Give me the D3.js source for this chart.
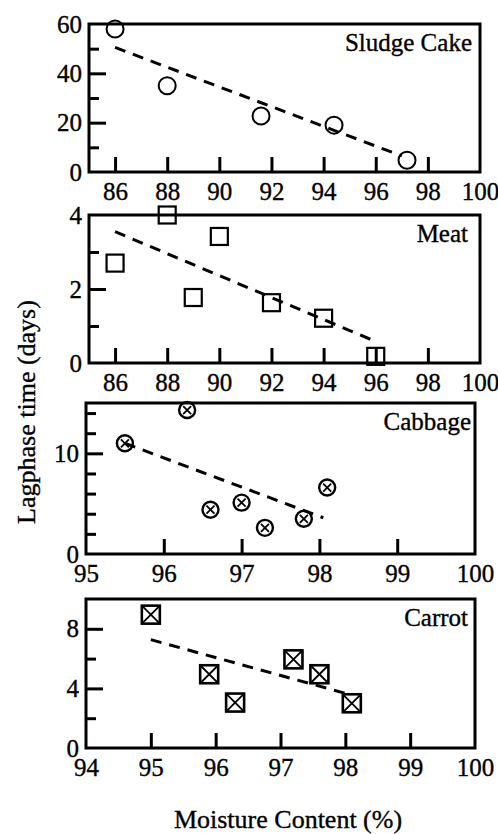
<!DOCTYPE html>
<html>
<head>
<meta charset="utf-8">
<script src="https://cdn.jsdelivr.net/npm/d3@7"></script>
<style>
  body { margin: 0; background: #fff; }
  svg { display: block; }
  svg text { stroke: #000; stroke-width: 0.35px; }
</style>
</head>
<body>
<div id="chart"></div>
<script>
/* Lagphase time vs moisture content, four stacked panels */

// data
const sludgeX = [86, 88, 91.6, 94.4, 97.2];
const sludgeY = [58, 35, 22.7, 19, 4.8];
const sludgeTrend = [[86, 50.5], [97, 6.5]];

const meatX = [86, 88, 89, 90, 92, 94, 96];
const meatY = [2.7, 4.0, 1.77, 3.42, 1.63, 1.21, 0.18];
const meatTrend = [[86, 3.55], [96, 0.58]];

const cabbageX = [95.5, 96.3, 96.6, 97.0, 97.3, 97.8, 98.1];
const cabbageY = [11.0, 14.3, 4.4, 5.1, 2.6, 3.5, 6.6];
const cabbageTrend = [[95.5, 11.0], [98.05, 3.6]];

const carrotX = [95.0, 95.9, 96.3, 97.2, 97.6, 98.1];
const carrotY = [8.95, 4.95, 3.05, 5.95, 4.95, 3.0];
const carrotTrend = [[95.0, 7.27], [98.0, 3.67]];

// tick labels / marks
const xLabelsA = [86, 88, 90, 92, 94, 96, 98, 100];
const xLabelsB = [95, 96, 97, 98, 99, 100];
const xLabelsC = [94, 95, 96, 97, 98, 99, 100];

const width = 498, height = 834;
const serif = "Liberation Serif, DejaVu Serif, serif";

const panels = [
  { name: "Sludge Cake", xs: sludgeX, ys: sludgeY, trend: sludgeTrend, marker: "circle",
    xDom: [85, 100], yDom: [0, 60], xLab: xLabelsA, xMarks: xLabelsA.slice(0, -1),
    yLab: [0, 20, 40, 60], yMajor: [20, 40], yMinor: [10, 30, 50],
    box: { l: 89, r: 480, t: 24, b: 172 }, labDx: 8 },
  { name: "Meat", xs: meatX, ys: meatY, trend: meatTrend, marker: "square",
    xDom: [85, 100], yDom: [0, 4], xLab: xLabelsA, xMarks: xLabelsA.slice(0, -1),
    yLab: [0, 2, 4], yMajor: [2], yMinor: [1, 3],
    box: { l: 89, r: 480, t: 215, b: 363 }, labDx: 12 },
  { name: "Cabbage", xs: cabbageX, ys: cabbageY, trend: cabbageTrend, marker: "circlex",
    xDom: [95, 100], yDom: [0, 15], xLab: xLabelsB, xMarks: xLabelsB.slice(1, -1),
    yLab: [0, 10], yMajor: [10], yMinor: [2, 4, 6, 8, 12, 14],
    box: { l: 86, r: 475, t: 403, b: 554 }, labDx: 4 },
  { name: "Carrot", xs: carrotX, ys: carrotY, trend: carrotTrend, marker: "squarex",
    xDom: [94, 100], yDom: [0, 10], xLab: xLabelsC, xMarks: xLabelsC.slice(1, -1),
    yLab: [0, 4, 8], yMajor: [4, 8], yMinor: [2, 6],
    box: { l: 86, r: 475, t: 599, b: 748 }, labDx: 7 }
];

const svg = d3.select("#chart")
  .append("svg")
  .attr("width", width)
  .attr("height", height)
  .attr("viewBox", [0, 0, width, height])
  .attr("font-family", serif);

const fmt = d3.format("d");

panels.forEach(p => {
  const b = p.box;
  const x = d3.scaleLinear().domain(p.xDom).range([b.l, b.r]);
  const y = d3.scaleLinear().domain(p.yDom).range([b.b, b.t]);
  const g = svg.append("g");

  // inward tick marks
  g.append("g")
    .attr("transform", `translate(0,${b.b})`)
    .call(d3.axisBottom(x).tickValues(p.xMarks).tickSize(-15).tickFormat(""))
    .call(a => a.select(".domain").remove())
    .call(a => a.selectAll("line").attr("stroke-width", 3));
  g.append("g")
    .attr("transform", `translate(${b.l},0)`)
    .call(d3.axisLeft(y).tickValues(p.yMajor).tickSize(-17).tickFormat(""))
    .call(a => a.select(".domain").remove())
    .call(a => a.selectAll("line").attr("stroke-width", 3));
  g.append("g")
    .attr("transform", `translate(${b.l},0)`)
    .call(d3.axisLeft(y).tickValues(p.yMinor).tickSize(-10).tickFormat(""))
    .call(a => a.select(".domain").remove())
    .call(a => a.selectAll("line").attr("stroke-width", 3));

  // tick labels
  g.append("g")
    .attr("transform", `translate(0,${b.b})`)
    .call(d3.axisBottom(x).tickValues(p.xLab).tickFormat(fmt).tickSize(0).tickPadding(10))
    .attr("font-family", serif).attr("font-size", 25)
    .call(a => a.select(".domain").remove())
    .call(a => a.selectAll("text").attr("fill", "#000"));
  g.append("g")
    .attr("transform", `translate(${b.l},0)`)
    .call(d3.axisLeft(y).tickValues(p.yLab).tickFormat(fmt).tickSize(0).tickPadding(7))
    .attr("font-family", serif).attr("font-size", 25)
    .call(a => a.select(".domain").remove())
    .call(a => a.selectAll("text").attr("fill", "#000"));

  // frame
  g.append("rect")
    .attr("x", b.l).attr("y", b.t)
    .attr("width", b.r - b.l).attr("height", b.b - b.t)
    .attr("fill", "none").attr("stroke", "#000").attr("stroke-width", 3);

  // trend line
  g.append("path")
    .datum(p.trend)
    .attr("d", d3.line().x(d => x(d[0])).y(d => y(d[1])))
    .attr("fill", "none").attr("stroke", "#000")
    .attr("stroke-width", 3).attr("stroke-dasharray", "11,8");

  // markers
  const pts = p.xs.map((v, i) => ({ x: v, y: p.ys[i] }));
  const m = g.selectAll(".pt").data(pts).join("g")
    .attr("class", "pt")
    .attr("transform", d => `translate(${x(d.x)},${y(d.y)})`)
    .attr("fill", "none").attr("stroke", "#000");

  if (p.marker === "circle") {
    m.append("circle").attr("r", 8.5).attr("stroke-width", 2);
  } else if (p.marker === "square") {
    m.append("rect").attr("x", -8.5).attr("y", -8.5).attr("width", 17).attr("height", 17)
      .attr("stroke-width", 2.2);
  } else if (p.marker === "circlex") {
    m.append("circle").attr("r", 8).attr("stroke-width", 2.4);
    m.append("path").attr("d", "M-4,-4L4,4M-4,4L4,-4").attr("stroke-width", 1.8);
  } else {
    m.append("rect").attr("x", -9).attr("y", -9).attr("width", 18).attr("height", 18)
      .attr("stroke-width", 2.6);
    m.append("path").attr("d", "M-8,-8L8,8M-8,8L8,-8").attr("stroke-width", 1.8);
  }

  // panel name
  g.append("text")
    .attr("x", b.r - p.labDx).attr("y", b.t + 27)
    .attr("text-anchor", "end")
    .attr("font-size", 25)
    .text(p.name);
});

// axis titles
svg.append("text")
  .attr("x", 288).attr("y", 828)
  .attr("text-anchor", "middle")
  .attr("font-size", 26)
  .text("Moisture Content (%)");

svg.append("text")
  .attr("transform", "translate(35,412) rotate(-90)")
  .attr("text-anchor", "middle")
  .attr("font-size", 26)
  .text("Lagphase time (days)");
</script>
</body>
</html>
